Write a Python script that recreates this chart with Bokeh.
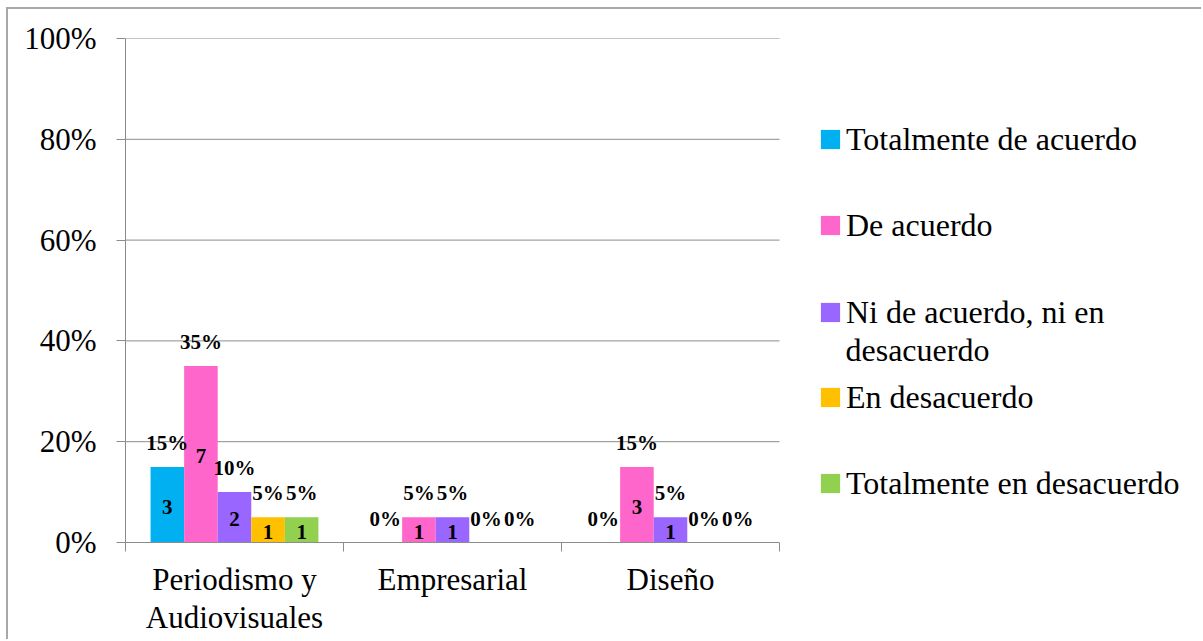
from bokeh.plotting import figure
from bokeh.models import (Range1d, FixedTicker, NumeralTickFormatter, ColumnDataSource,
                          LabelSet, Label, Legend, LegendItem)
from bokeh.embed import file_html
from bokeh.resources import INLINE

# ---------------- data ----------------
categories = ["Periodismo y\nAudiovisuales", "Empresarial", "Diseño"]
series_names = ["Totalmente de acuerdo", "De acuerdo", "Ni de acuerdo, ni en\ndesacuerdo",
                "En desacuerdo", "Totalmente en desacuerdo"]
colors = ["#00B0F0", "#FF66CC", "#9966FF", "#FFC000", "#92D050"]

tot_acuerdo_pct = [15, 0, 0]
de_acuerdo_pct = [35, 5, 15]
ni_ni_pct = [10, 5, 5]
en_desacuerdo_pct = [5, 0, 0]
tot_desacuerdo_pct = [5, 0, 0]

tot_acuerdo_n = [3, 0, 0]
de_acuerdo_n = [7, 1, 3]
ni_ni_n = [2, 1, 1]
en_desacuerdo_n = [1, 0, 0]
tot_desacuerdo_n = [1, 0, 0]

y_ticks = [0, 0.2, 0.4, 0.6, 0.8, 1.0]

pct_series = [tot_acuerdo_pct, de_acuerdo_pct, ni_ni_pct, en_desacuerdo_pct, tot_desacuerdo_pct]
n_series = [tot_acuerdo_n, de_acuerdo_n, ni_ni_n, en_desacuerdo_n, tot_desacuerdo_n]

# ---------------- layout constants (pixels on page) ----------------
FONT = "Liberation Serif"
GRAY = "#8c8c8c"
CANVAS_X, CANVAS_Y = 8, 9
FRAME_L, FRAME_T, FRAME_B = 125, 38, 542
CAT_PX = 218                      # width of one category on screen
W, H = 1203 - CANVAS_X, 641 - CANVAS_Y
frame_w = CANVAS_X + W - FRAME_L
x_end = frame_w / CAT_PX          # x range extends to the right to host the legend

p = figure(width=W, height=H, output_backend="svg", toolbar_location=None,
           x_range=Range1d(0, x_end), y_range=Range1d(0, 1),
           min_border_left=FRAME_L - CANVAS_X, min_border_top=FRAME_T - CANVAS_Y,
           min_border_bottom=CANVAS_Y + H - FRAME_B, min_border_right=0)
p.styles = {"border-top": "2px solid #a8a8a8", "border-left": "2px solid #a8a8a8",
            "margin-left": "6px", "margin-top": "7px"}
p.outline_line_color = None
p.background_fill_color = "white"
p.border_fill_color = "white"

# y axis
p.yaxis.ticker = FixedTicker(ticks=y_ticks)
p.yaxis.formatter = NumeralTickFormatter(format="0%")
p.yaxis.axis_line_color = GRAY
p.yaxis.major_tick_line_color = GRAY
p.yaxis.major_tick_out = 9
p.yaxis.major_tick_in = 0
p.yaxis.minor_tick_line_color = None
p.yaxis.major_label_standoff = 20
p.yaxis.major_label_text_font = FONT
p.yaxis.major_label_text_font_size = "31px"
p.yaxis.major_label_text_color = "black"

# x axis (category labels at centres, tick marks at boundaries)
n_cat = len(categories)
centers = [i + 0.5 for i in range(n_cat)]
bounds = [i for i in range(n_cat + 1)]
p.xaxis.ticker = FixedTicker(ticks=centers, minor_ticks=bounds)
p.xaxis.bounds = (0, n_cat)
p.xaxis.major_label_overrides = {c: lab for c, lab in zip(centers, categories)}
p.xaxis.axis_line_color = GRAY
p.xaxis.major_tick_line_color = None
p.xaxis.minor_tick_line_color = GRAY
p.xaxis.minor_tick_out = 9
p.xaxis.minor_tick_in = 0
p.xaxis.major_label_standoff = 10
p.xaxis.major_label_text_font = FONT
p.xaxis.major_label_text_font_size = "31px"
p.xaxis.major_label_text_line_height = 1.1
p.xaxis.major_label_text_color = "black"

p.xgrid.grid_line_color = None
p.ygrid.grid_line_color = None
# horizontal gridlines only across the category area
gy = [t for t in y_ticks if t > 0]
p.segment(x0=[0] * len(gy), x1=[n_cat] * len(gy), y0=gy, y1=gy,
          line_color=GRAY, line_width=1)

# bars
bar_w = 0.154
renderers = []
pct_rows = {"x": [], "y": [], "t": []}
n_rows = {"x": [], "y": [], "t": []}
for k, (name, col, pcts, ns) in enumerate(zip(series_names, colors, pct_series, n_series)):
    xs = [c + (k - 2) * bar_w for c in centers]
    ys = [v / 100 for v in pcts]
    src = ColumnDataSource(dict(x=xs, top=ys))
    r = p.vbar(x="x", top="top", width=bar_w, bottom=0, source=src,
               fill_color=col, line_color=None)
    renderers.append(r)
    for x, y, v, n in zip(xs, ys, pcts, ns):
        pct_rows["x"].append(x)
        pct_rows["y"].append(y)
        pct_rows["t"].append(f"{v}%")
        if n > 0:
            n_rows["x"].append(x)
            n_rows["y"].append(y / 2)
            n_rows["t"].append(str(n))

p.add_layout(LabelSet(x="x", y="y", text="t", source=ColumnDataSource(pct_rows),
                      y_offset=24, text_align="center", text_baseline="middle",
                      text_font=FONT, text_font_size="21px", text_font_style="bold",
                      text_color="black"))
p.add_layout(LabelSet(x="x", y="y", text="t", source=ColumnDataSource(n_rows),
                      y_offset=-2, text_align="center", text_baseline="middle",
                      text_font=FONT, text_font_size="21px", text_font_style="bold",
                      text_color="black"))

# legend: one legend per entry, placed in screen units relative to the frame
GLYPH = 24
leg_left = 830 - GLYPH // 2
text_left = 846
leg_centers = [139, 225, 312, 397, 483]
LINE_H = 37
LEG_FONT = "32px"
frame_h = FRAME_B - FRAME_T
for k, (name, r) in enumerate(zip(series_names, renderers)):
    lines = name.split("\n")
    top = leg_centers[k] - LINE_H / 2 - FRAME_T
    leg = Legend(items=[LegendItem(label=lines[0], renderers=[r])],
                 location=(leg_left - FRAME_L, frame_h - top - LINE_H),
                 glyph_width=GLYPH, glyph_height=GLYPH,
                 label_standoff=int(text_left - leg_left - GLYPH),
                 padding=0, margin=0, spacing=0,
                 border_line_color=None, background_fill_alpha=0,
                 label_text_font=FONT, label_text_font_size=LEG_FONT,
                 label_text_color="black")
    p.add_layout(leg, "center")
    # continuation lines of a wrapped legend entry
    for j, extra in enumerate(lines[1:], start=1):
        p.add_layout(Label(x=text_left - FRAME_L - 1,
                           y=FRAME_B - (leg_centers[k] + j * LINE_H),
                           x_units="screen", y_units="screen", text=extra,
                           text_baseline="middle", text_align="left",
                           text_font=FONT, text_font_size=LEG_FONT,
                           text_color="black"))

open("out.html", "w").write(file_html(p, INLINE))
